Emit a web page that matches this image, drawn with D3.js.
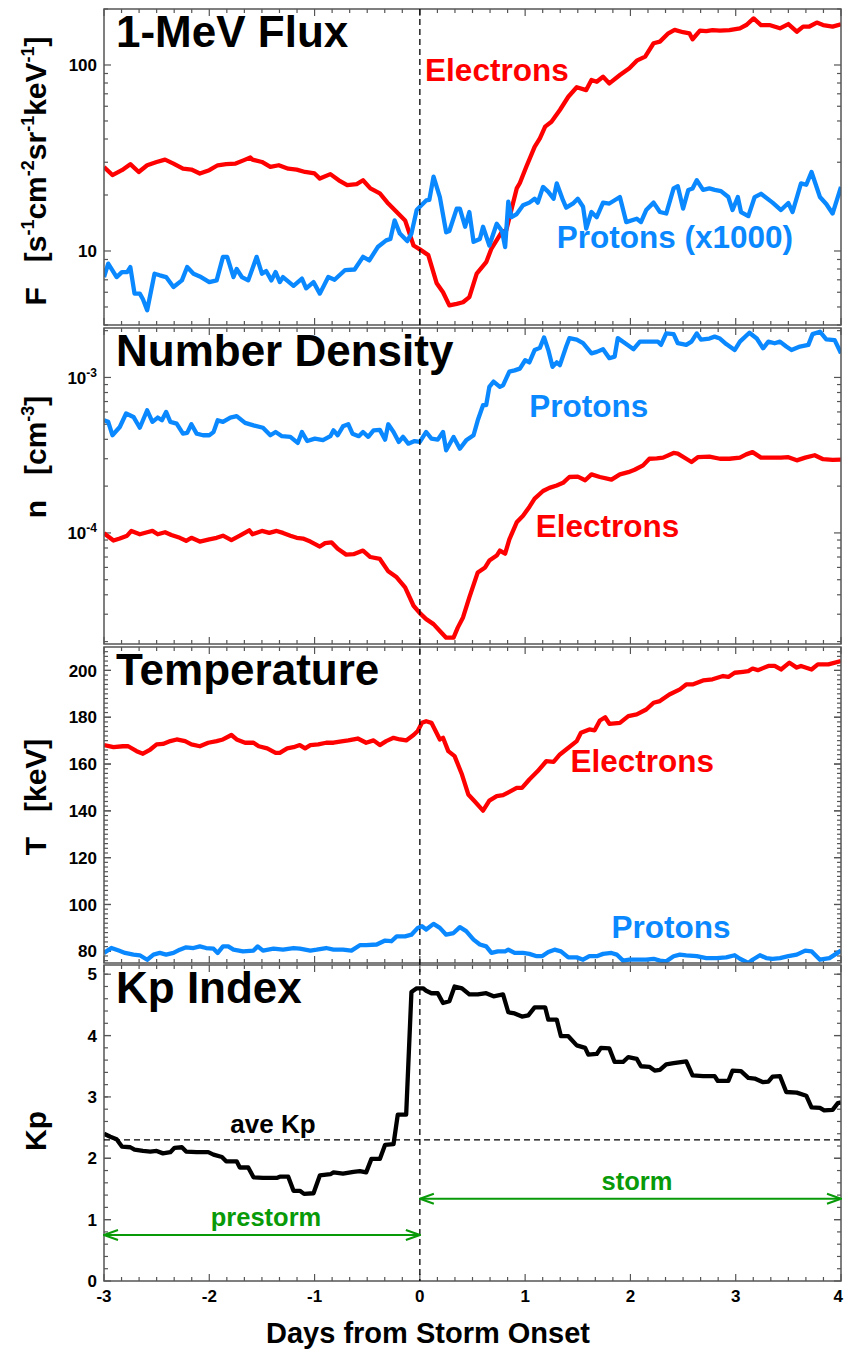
<!DOCTYPE html>
<html>
<head>
<meta charset="utf-8">
<script src="https://cdn.jsdelivr.net/npm/d3@7"></script>
<style>
  body { margin: 0; background: #fff; }
  svg text { font-family: "Liberation Sans", Arial, Helvetica, sans-serif; font-weight: bold; }
</style>
</head>
<body>
<script>
// ---- data: [days from onset, value] ----
const fluxElectrons = [
  [-3.00,28.3],[-2.92,25.6],[-2.83,27.2],[-2.75,29.3],[-2.67,26.6],[-2.59,28.9],[-2.50,30.1],[-2.42,31.0],
  [-2.34,29.5],[-2.25,27.7],[-2.17,27.4],[-2.09,26.1],[-2.00,27.2],[-1.92,28.9],[-1.84,29.3],[-1.75,29.5],
  [-1.67,30.8],[-1.61,31.8],[-1.59,31.0],[-1.50,30.1],[-1.42,28.3],[-1.34,28.9],[-1.25,27.7],[-1.17,27.4],
  [-1.09,26.6],[-1.00,26.1],[-0.95,24.5],[-0.85,25.9],[-0.77,24.0],[-0.69,22.6],[-0.60,22.9],[-0.54,24.0],
  [-0.47,21.7],[-0.38,20.4],[-0.30,18.0],[-0.22,16.2],[-0.14,14.6],[-0.06,10.7],[0.00,10.2],[0.08,9.5],
  [0.16,6.7],[0.22,6.0],[0.28,5.1],[0.35,5.2],[0.41,5.3],[0.47,5.65],[0.54,7.55],[0.63,8.7],[0.68,10.3],
  [0.78,12.7],[0.82,12.9],[0.92,21.7],[0.95,23.2],[1.01,28.3],[1.09,36.3],[1.14,40.3],[1.19,46.6],
  [1.25,49.5],[1.33,57.3],[1.41,67.5],[1.49,75.9],[1.58,73.3],[1.63,83],[1.68,81.3],[1.74,86.5],
  [1.80,79.6],[1.90,88.3],[1.99,96],[2.06,105.5],[2.14,110.9],[2.22,130.9],[2.28,133.6],[2.36,148],
  [2.42,154.4],[2.50,150],[2.56,148],[2.59,137.5],[2.66,153],[2.72,152],[2.78,154],[2.85,153],[2.94,154],
  [3.04,157.5],[3.10,164],[3.17,178],[3.24,164],[3.32,164],[3.42,157.5],[3.50,166],[3.58,151],[3.64,160.7],
  [3.70,161],[3.77,169],[3.83,164],[3.92,160.7],[4.00,165.6]
];
const fluxProtons = [
  [-3.00,7.24],[-2.96,8.55],[-2.88,7.24],[-2.83,7.7],[-2.78,7.7],[-2.75,8.2],[-2.71,5.9],[-2.66,5.9],
  [-2.63,5.5],[-2.59,4.8],[-2.52,7.55],[-2.47,7.4],[-2.41,7.24],[-2.34,6.4],[-2.26,6.95],[-2.21,8.2],
  [-2.15,7.55],[-2.09,7.3],[-2.00,6.8],[-1.93,6.95],[-1.87,9.3],[-1.83,9.3],[-1.77,7.24],[-1.74,8.0],
  [-1.69,7.24],[-1.63,6.95],[-1.55,9.3],[-1.50,7.55],[-1.46,7.8],[-1.41,6.95],[-1.37,7.7],[-1.33,6.8],
  [-1.30,7.24],[-1.20,6.5],[-1.12,7.1],[-1.08,6.3],[-1.01,6.8],[-0.95,5.9],[-0.87,7.24],[-0.81,7.0],
  [-0.71,7.9],[-0.62,7.95],[-0.54,9.3],[-0.48,8.9],[-0.40,10.5],[-0.32,11.4],[-0.28,11.6],[-0.24,14.6],
  [-0.19,12.4],[-0.12,11.3],[-0.08,12.4],[-0.03,16.6],[0.00,17.3],[0.06,18.7],[0.09,18.8],[0.13,25.1],
  [0.19,19.5],[0.25,12.6],[0.28,12.8],[0.35,16.9],[0.38,16.9],[0.43,13.5],[0.47,16.2],[0.51,11.2],
  [0.57,11.6],[0.60,13.5],[0.66,10.7],[0.73,14.0],[0.78,12.8],[0.81,10.5],[0.84,18.4],[0.87,15.2],
  [0.92,15.8],[0.98,17.6],[1.04,18.2],[1.09,19.1],[1.12,18.2],[1.17,22.1],[1.22,20.8],[1.27,19.1],
  [1.30,23.1],[1.36,18.7],[1.39,17.1],[1.46,18.1],[1.50,19.1],[1.55,17.3],[1.58,13.2],[1.63,16.2],
  [1.68,15.2],[1.74,18.2],[1.80,18.0],[1.90,19.5],[1.96,14.3],[2.06,14.9],[2.10,14.3],[2.15,16.6],
  [2.22,18.2],[2.28,16.2],[2.34,15.9],[2.41,21.7],[2.45,22.3],[2.50,16.9],[2.55,21.3],[2.59,21.7],
  [2.63,24.0],[2.69,21.3],[2.75,21.7],[2.80,21.3],[2.86,21.0],[2.93,19.5],[2.97,16.6],[3.02,19.5],
  [3.05,16.2],[3.12,15.4],[3.18,19.5],[3.24,20.3],[3.35,18.2],[3.43,16.6],[3.50,18.1],[3.54,16.2],
  [3.62,23.1],[3.67,22.7],[3.72,26.6],[3.80,19.5],[3.86,17.9],[3.92,15.9],[4.00,22.1]
];
const densProtons = [
  [-3.00,5.3e-4],[-2.96,5.18e-4],[-2.92,4.25e-4],[-2.85,4.8e-4],[-2.79,5.86e-4],[-2.72,5.57e-4],
  [-2.66,4.75e-4],[-2.59,6.15e-4],[-2.54,5.18e-4],[-2.49,5.52e-4],[-2.45,5.3e-4],[-2.41,6.0e-4],
  [-2.37,5.18e-4],[-2.31,5.05e-4],[-2.25,4.35e-4],[-2.21,4.4e-4],[-2.17,5.0e-4],[-2.12,4.35e-4],
  [-2.06,4.25e-4],[-2.00,4.25e-4],[-1.96,4.45e-4],[-1.92,5.3e-4],[-1.87,5.18e-4],[-1.80,5.52e-4],
  [-1.74,5.64e-4],[-1.66,5.1e-4],[-1.58,4.92e-4],[-1.49,4.75e-4],[-1.42,4.25e-4],[-1.37,4.46e-4],
  [-1.31,4.19e-4],[-1.23,4.15e-4],[-1.16,3.79e-4],[-1.12,4.46e-4],[-1.07,3.9e-4],[-0.997,4.04e-4],
  [-0.92,3.95e-4],[-0.85,4.19e-4],[-0.82,4.57e-4],[-0.78,4.25e-4],[-0.73,4.85e-4],[-0.68,5.0e-4],
  [-0.64,4.35e-4],[-0.58,4.19e-4],[-0.54,4.46e-4],[-0.49,4.15e-4],[-0.44,4.57e-4],[-0.38,4.6e-4],
  [-0.33,3.98e-4],[-0.30,5.0e-4],[-0.25,4.46e-4],[-0.20,3.85e-4],[-0.16,4.15e-4],[-0.11,3.75e-4],
  [-0.05,3.9e-4],[0.00,3.85e-4],[0.06,4.46e-4],[0.11,4.04e-4],[0.17,3.98e-4],[0.22,4.46e-4],
  [0.25,3.4e-4],[0.32,4.14e-4],[0.38,3.48e-4],[0.44,3.94e-4],[0.51,4.25e-4],[0.55,5.3e-4],
  [0.60,6.63e-4],[0.63,6.63e-4],[0.66,8.7e-4],[0.70,9.4e-4],[0.76,8.7e-4],[0.79,8.9e-4],
  [0.85,1.09e-3],[0.90,1.11e-3],[0.95,1.14e-3],[1.00,1.29e-3],[1.04,1.25e-3],[1.09,1.5e-3],
  [1.14,1.55e-3],[1.18,1.81e-3],[1.22,1.5e-3],[1.26,1.17e-3],[1.30,1.25e-3],[1.33,1.2e-3],
  [1.39,1.58e-3],[1.42,1.79e-3],[1.49,1.75e-3],[1.55,1.66e-3],[1.63,1.43e-3],[1.68,1.46e-3],
  [1.74,1.52e-3],[1.80,1.33e-3],[1.85,1.36e-3],[1.88,1.79e-3],[1.95,1.66e-3],[2.03,1.52e-3],
  [2.09,1.7e-3],[2.18,1.7e-3],[2.26,1.7e-3],[2.29,1.62e-3],[2.34,1.92e-3],[2.41,1.9e-3],
  [2.45,1.66e-3],[2.53,1.62e-3],[2.58,1.7e-3],[2.63,1.92e-3],[2.67,1.75e-3],[2.75,1.78e-3],
  [2.80,1.83e-3],[2.85,1.78e-3],[2.91,1.64e-3],[2.99,1.5e-3],[3.04,1.7e-3],[3.13,1.94e-3],
  [3.20,1.78e-3],[3.26,1.54e-3],[3.31,1.7e-3],[3.37,1.66e-3],[3.42,1.7e-3],[3.48,1.58e-3],
  [3.53,1.5e-3],[3.61,1.58e-3],[3.69,1.62e-3],[3.73,1.9e-3],[3.80,1.97e-3],[3.86,1.76e-3],
  [3.94,1.74e-3],[4.00,1.43e-3]
];
const densElectrons = [
  [-3.00,9.95e-5],[-2.91,8.93e-5],[-2.85,9.2e-5],[-2.78,9.6e-5],[-2.74,1.03e-4],[-2.66,9.8e-5],
  [-2.59,1.01e-4],[-2.54,1.03e-4],[-2.49,9.8e-5],[-2.42,1.01e-4],[-2.36,9.7e-5],[-2.28,9.3e-5],
  [-2.22,8.9e-5],[-2.17,9.3e-5],[-2.09,8.8e-5],[-2.00,9.1e-5],[-1.93,9.3e-5],[-1.87,9.6e-5],
  [-1.79,9.0e-5],[-1.71,9.6e-5],[-1.62,1.04e-4],[-1.59,9.8e-5],[-1.50,1.03e-4],[-1.43,1.0e-4],
  [-1.36,1.03e-4],[-1.30,1.0e-4],[-1.23,9.6e-5],[-1.17,9.3e-5],[-1.11,9.2e-5],[-1.04,8.8e-5],
  [-0.95,8.17e-5],[-0.90,8.6e-5],[-0.84,8.7e-5],[-0.78,7.9e-5],[-0.70,7.25e-5],[-0.63,7.3e-5],
  [-0.54,7.7e-5],[-0.47,7.0e-5],[-0.38,6.8e-5],[-0.30,5.66e-5],[-0.22,5.18e-5],[-0.14,4.46e-5],
  [-0.06,3.4e-5],[0.00,3.05e-5],[0.06,2.79e-5],[0.13,2.59e-5],[0.19,2.34e-5],[0.25,2.12e-5],
  [0.32,2.12e-5],[0.36,2.46e-5],[0.41,2.86e-5],[0.47,3.85e-5],[0.55,5.57e-5],[0.62,6.0e-5],
  [0.66,6.64e-5],[0.73,7.15e-5],[0.76,7.7e-5],[0.81,7.35e-5],[0.85,9.1e-5],[0.92,1.17e-4],
  [0.98,1.29e-4],[1.04,1.47e-4],[1.09,1.66e-4],[1.17,1.86e-4],[1.23,1.95e-4],[1.30,2.02e-4],
  [1.36,2.1e-4],[1.42,2.29e-4],[1.50,2.3e-4],[1.57,2.18e-4],[1.63,2.38e-4],[1.71,2.29e-4],
  [1.82,2.2e-4],[1.90,2.38e-4],[1.98,2.46e-4],[2.04,2.55e-4],[2.12,2.72e-4],[2.18,3.0e-4],
  [2.25,3.02e-4],[2.31,3.05e-4],[2.41,3.27e-4],[2.45,3.24e-4],[2.53,3.0e-4],[2.58,2.86e-4],
  [2.64,3.07e-4],[2.75,3.1e-4],[2.85,3.0e-4],[2.94,3.0e-4],[3.04,3.05e-4],[3.10,3.2e-4],
  [3.16,3.31e-4],[3.24,3.05e-4],[3.35,3.05e-4],[3.43,3.05e-4],[3.50,3.07e-4],[3.58,2.93e-4],
  [3.66,3.05e-4],[3.75,3.16e-4],[3.83,2.98e-4],[3.92,2.95e-4],[4.00,2.96e-4]
];
const tempElectrons = [
  [-3.00,168.1],[-2.91,167.2],[-2.82,167.6],[-2.77,167.6],[-2.69,165.5],[-2.63,164.4],[-2.56,166.2],
  [-2.50,168.4],[-2.44,168.6],[-2.37,169.8],[-2.31,170.5],[-2.23,169.8],[-2.17,168.4],[-2.09,167.6],
  [-2.01,169.1],[-1.93,169.8],[-1.87,170.5],[-1.79,172.4],[-1.74,170.5],[-1.66,169.1],[-1.58,169.1],
  [-1.53,167.6],[-1.45,166.7],[-1.37,164.8],[-1.33,164.8],[-1.26,166.7],[-1.20,167.2],[-1.14,168.1],
  [-1.09,166.7],[-1.04,168.1],[-0.965,168.4],[-0.89,169.1],[-0.82,169.1],[-0.76,169.6],[-0.68,170.1],
  [-0.59,170.9],[-0.51,169.1],[-0.44,170.1],[-0.38,168.1],[-0.32,169.8],[-0.25,171.2],[-0.19,170.5],
  [-0.13,170.1],[-0.06,172.4],[-0.02,174.1],[0.02,177.6],[0.06,178.3],[0.11,177.6],[0.19,170.5],
  [0.22,171.2],[0.27,165.5],[0.33,163.4],[0.40,155.5],[0.46,147.0],[0.52,144.1],[0.60,140.1],
  [0.66,144.4],[0.73,146.3],[0.79,146.7],[0.85,148.1],[0.92,149.8],[0.97,149.8],[1.04,153.4],
  [1.12,157.0],[1.20,161.2],[1.27,160.9],[1.33,164.1],[1.39,166.2],[1.49,169.8],[1.53,173.4],
  [1.61,174.8],[1.66,174.4],[1.71,178.6],[1.76,180.0],[1.80,177.2],[1.90,177.6],[1.98,180.5],
  [2.06,181.2],[2.15,183.3],[2.22,186.2],[2.28,186.9],[2.37,189.7],[2.47,191.9],[2.53,194.0],
  [2.59,194.0],[2.69,195.7],[2.78,196.2],[2.88,197.6],[2.93,197.2],[2.99,199.0],[3.07,199.4],
  [3.12,199.7],[3.16,200.8],[3.21,200.1],[3.31,201.9],[3.37,201.9],[3.43,200.4],[3.51,203.3],
  [3.58,201.2],[3.62,201.9],[3.72,200.4],[3.78,202.6],[3.88,202.6],[4.00,204.0]
];
const tempProtons = [
  [-3.00,79.3],[-2.93,81.4],[-2.86,80.3],[-2.80,79.3],[-2.72,78.6],[-2.66,78.3],[-2.59,76.4],
  [-2.53,78.6],[-2.47,79.3],[-2.41,78.6],[-2.34,79.3],[-2.28,80.7],[-2.22,81.7],[-2.15,81.4],
  [-2.09,82.1],[-2.03,81.4],[-1.96,81.1],[-1.92,79.3],[-1.87,82.1],[-1.82,82.1],[-1.77,80.7],
  [-1.68,80.0],[-1.58,80.3],[-1.54,82.1],[-1.49,80.3],[-1.39,81.1],[-1.30,80.7],[-1.20,81.4],
  [-1.14,81.1],[-1.04,80.3],[-0.98,80.7],[-0.89,81.4],[-0.82,80.7],[-0.73,80.7],[-0.65,80.3],
  [-0.57,82.6],[-0.51,82.6],[-0.41,82.9],[-0.33,84.6],[-0.27,84.3],[-0.22,86.4],[-0.14,86.4],
  [-0.08,87.1],[-0.02,90.0],[0.02,90.7],[0.06,89.3],[0.13,91.7],[0.19,90.0],[0.25,87.1],
  [0.32,87.8],[0.38,90.3],[0.44,88.6],[0.51,85.0],[0.57,82.9],[0.63,82.1],[0.68,79.3],
  [0.74,80.0],[0.81,80.0],[0.84,80.7],[0.90,79.3],[0.98,79.3],[1.04,78.9],[1.11,77.9],[1.16,77.9],
  [1.22,79.7],[1.28,80.7],[1.34,80.0],[1.41,77.4],[1.49,77.4],[1.55,76.4],[1.61,77.9],[1.68,77.9],
  [1.74,78.9],[1.82,79.3],[1.87,78.6],[1.93,76.0],[1.99,76.4],[2.06,76.4],[2.15,76.4],[2.22,76.8],
  [2.28,76.0],[2.34,75.7],[2.41,77.9],[2.47,78.6],[2.53,78.3],[2.63,77.9],[2.72,77.1],[2.82,77.1],
  [2.91,77.4],[2.99,78.3],[3.04,76.8],[3.12,75.0],[3.16,76.4],[3.23,78.3],[3.29,77.1],[3.35,76.8],
  [3.42,77.1],[3.50,77.9],[3.58,78.6],[3.66,80.3],[3.72,80.0],[3.80,76.4],[3.89,77.1],[4.00,80.3]
];
const kpIndex = [
  [-3.00,2.40],[-2.94,2.35],[-2.88,2.31],[-2.83,2.19],[-2.75,2.18],[-2.71,2.14],[-2.63,2.12],
  [-2.56,2.11],[-2.50,2.12],[-2.44,2.08],[-2.37,2.10],[-2.33,2.17],[-2.26,2.18],[-2.22,2.11],
  [-2.12,2.10],[-2.01,2.10],[-1.96,2.06],[-1.88,2.02],[-1.84,1.95],[-1.74,1.95],[-1.71,1.85],
  [-1.63,1.85],[-1.58,1.69],[-1.49,1.68],[-1.36,1.68],[-1.33,1.70],[-1.25,1.70],[-1.20,1.47],
  [-1.14,1.47],[-1.10,1.42],[-1.01,1.43],[-0.95,1.72],[-0.85,1.74],[-0.82,1.77],[-0.73,1.75],
  [-0.63,1.78],[-0.57,1.79],[-0.51,1.77],[-0.46,1.99],[-0.38,1.99],[-0.33,2.22],[-0.25,2.23],
  [-0.21,2.71],[-0.13,2.71],[-0.08,4.71],[-0.03,4.77],[0.03,4.77],[0.06,4.73],[0.11,4.69],
  [0.17,4.69],[0.22,4.53],[0.28,4.56],[0.33,4.80],[0.40,4.77],[0.47,4.67],[0.55,4.67],[0.63,4.69],
  [0.70,4.64],[0.79,4.67],[0.84,4.38],[0.90,4.36],[0.97,4.31],[1.03,4.33],[1.09,4.46],[1.19,4.46],
  [1.22,4.26],[1.30,4.26],[1.34,3.99],[1.41,3.99],[1.49,3.84],[1.57,3.80],[1.60,3.69],[1.68,3.70],
  [1.72,3.80],[1.80,3.79],[1.85,3.57],[1.93,3.57],[1.98,3.65],[2.06,3.62],[2.10,3.50],[2.18,3.49],
  [2.23,3.43],[2.28,3.44],[2.34,3.53],[2.41,3.55],[2.53,3.58],[2.59,3.35],[2.69,3.34],[2.80,3.34],
  [2.83,3.26],[2.93,3.26],[2.97,3.43],[3.05,3.42],[3.12,3.31],[3.18,3.30],[3.26,3.24],[3.31,3.25],
  [3.35,3.33],[3.42,3.34],[3.48,3.08],[3.58,3.07],[3.67,3.02],[3.72,2.83],[3.80,2.82],[3.84,2.78],
  [3.92,2.79],[3.97,2.90],[4.00,2.91]
];
const aveKp = 2.3;
const prestormSpan = [-3, 0], prestormLevel = 0.75;
const stormSpan = [0, 4], stormLevel = 1.34;
const xTickLabels = ["-3", "-2", "-1", "0", "1", "2", "3", "4"];

// ---- layout ----
const W = 844, H = 1350;
const left = 104, right = 841;
const panelTops = [9, 328, 647, 965], panelH = 316;
const RED = "#ff0000", BLUE = "#0a88ff", GREEN = "#089a08", FRAME = "#555";

const x = d3.scaleLinear().domain([-3, 4]).range([left, right]);

const svg = d3.select("body").append("svg").attr("width", W).attr("height", H);

function logMinor(lo, hi) {
  const out = [];
  for (let e = Math.floor(Math.log10(lo)); e <= Math.ceil(Math.log10(hi)); e++)
    for (let m = 2; m <= 9; m++) {
      const v = m * Math.pow(10, e);
      if (v >= lo && v <= hi) out.push(v);
    }
  return out;
}

// text with superscripts: parts = [[text, isSup], ...]
function rich(textSel, parts, supSize, shift) {
  let up = false;
  parts.forEach(([t, sup]) => {
    const ts = textSel.append("tspan").text(t);
    if (sup && !up) { ts.attr("dy", -shift).attr("font-size", supSize); up = true; }
    else if (sup) { ts.attr("font-size", supSize); }
    else if (up) { ts.attr("dy", shift); up = false; }
  });
  return textSel;
}

const panels = [
  {
    title: "1-MeV Flux", y: d3.scaleLog().domain([4, 200]),
    major: [10, 100], minor: logMinor(4, 200),
    tickParts: v => [[String(v), false]],
    ylabel: [["F   [s", false], ["-1", true], ["cm", false], ["-2", true], ["sr", false], ["-1", true], ["keV", false], ["-1", true], ["]", false]],
    ylabelY: 171,
    series: [{ data: fluxElectrons, color: RED }, { data: fluxProtons, color: BLUE }],
    notes: [
      { text: "Electrons", color: RED, day: 0.05, val: 82 },
      { text: "Protons (x1000)", color: BLUE, day: 1.30, val: 10.4 }
    ]
  },
  {
    title: "Number Density", y: d3.scaleLog().domain([1.93e-5, 2.08e-3]),
    major: [1e-4, 1e-3], minor: logMinor(1.93e-5, 2.08e-3),
    tickParts: v => [["10", false], [String(Math.round(Math.log10(v))), true]],
    ylabel: [["n   [cm", false], ["-3", true], ["]", false]],
    ylabelY: 457,
    series: [{ data: densElectrons, color: RED }, { data: densProtons, color: BLUE }],
    notes: [
      { text: "Protons", color: BLUE, day: 1.04, val: 5.57e-4 },
      { text: "Electrons", color: RED, day: 1.10, val: 9.4e-5 }
    ]
  },
  {
    title: "Temperature", y: d3.scaleLinear().domain([75, 210]),
    major: d3.range(80, 201, 20), minor: d3.range(76, 210, 2),
    tickParts: v => [[String(v), false]],
    ylabel: [["T   [keV]", false]],
    ylabelY: 797,
    series: [{ data: tempElectrons, color: RED }, { data: tempProtons, color: BLUE }],
    notes: [
      { text: "Electrons", color: RED, day: 1.43, val: 156.6 },
      { text: "Protons", color: BLUE, day: 1.82, val: 85.7 }
    ]
  },
  {
    title: "Kp Index", y: d3.scaleLinear().domain([0, 5.15]),
    major: d3.range(0, 5.01, 1), minor: d3.range(0.2, 5.15, 0.2),
    tickParts: v => [[String(v), false]],
    ylabel: [["Kp", false]],
    ylabelY: 1131,
    series: [{ data: kpIndex, color: "#000" }],
    notes: []
  }
];

const xMajor = d3.range(-3, 4.01, 1);
const xMinor = d3.range(-3, 4.001, 1 / 6);

panels.forEach((p, i) => {
  const top = panelTops[i], bot = top + panelH;
  p.y.range([bot, top]);
  const g = svg.append("g");

  g.append("clipPath").attr("id", "clip" + i)
    .append("rect").attr("x", left).attr("y", top).attr("width", right - left).attr("height", panelH);

  // ticks, inward on all four sides
  const tk = g.append("g").attr("stroke", FRAME).attr("stroke-width", 1.2);
  xMinor.forEach(d => {
    const len = xMajor.some(m => Math.abs(m - d) < 1e-6) ? 7 : 4;
    tk.append("line").attr("x1", x(d)).attr("x2", x(d)).attr("y1", bot).attr("y2", bot - len);
    tk.append("line").attr("x1", x(d)).attr("x2", x(d)).attr("y1", top).attr("y2", top + len);
  });
  p.minor.concat(p.major).forEach(v => {
    const len = p.major.includes(v) ? 7 : 4;
    tk.append("line").attr("x1", left).attr("x2", left + len).attr("y1", p.y(v)).attr("y2", p.y(v));
    tk.append("line").attr("x1", right).attr("x2", right - len).attr("y1", p.y(v)).attr("y2", p.y(v));
  });

  // y tick labels
  p.major.forEach(v => {
    const t = g.append("text").attr("x", 97).attr("y", p.y(v)).attr("dy", "0.36em")
      .attr("text-anchor", "end").attr("font-size", 17);
    rich(t, p.tickParts(v), 12, 7);
  });

  // data lines
  const line = d3.line().x(d => x(d[0])).y(d => p.y(d[1]));
  p.series.forEach(s => {
    g.append("path").datum(s.data).attr("clip-path", `url(#clip${i})`)
      .attr("fill", "none").attr("stroke", s.color).attr("stroke-width", 4.3)
      .attr("stroke-linejoin", "round").attr("d", line);
  });

  // frame
  g.append("rect").attr("x", left).attr("y", top).attr("width", right - left).attr("height", panelH)
    .attr("fill", "none").attr("stroke", FRAME).attr("stroke-width", 1.5);

  // title and series labels
  g.append("text").attr("x", left + 12).attr("y", top + 38).attr("font-size", 44).text(p.title);
  p.notes.forEach(n => {
    g.append("text").attr("x", x(n.day)).attr("y", p.y(n.val)).attr("font-size", 31.5)
      .attr("fill", n.color).text(n.text);
  });

  // y axis label
  const yl = g.append("text").attr("transform", `translate(46,${p.ylabelY}) rotate(-90)`)
    .attr("text-anchor", "middle").attr("font-size", 30).style("white-space", "pre");
  rich(yl, p.ylabel, 18, 12);
});

// x tick labels and title (bottom panel only); the last one is kept inside the page edge
xMajor.forEach((d, i) => {
  const last = i === xMajor.length - 1;
  svg.append("text").attr("x", last ? W - 1 : x(d)).attr("y", 1302)
    .attr("text-anchor", last ? "end" : "middle")
    .attr("font-size", 17).text(xTickLabels[i]);
});
svg.append("text").attr("x", 428).attr("y", 1343).attr("text-anchor", "middle")
  .attr("font-size", 29).text("Days from Storm Onset");

const kp = panels[3];

// onset marker
svg.append("line").attr("x1", x(0)).attr("x2", x(0)).attr("y1", panelTops[0]).attr("y2", panelTops[3] + panelH)
  .attr("stroke", "#000").attr("stroke-width", 1.3).attr("stroke-dasharray", "6,4");

// average Kp
svg.append("line").attr("x1", x(-3)).attr("x2", x(4)).attr("y1", kp.y(aveKp)).attr("y2", kp.y(aveKp))
  .attr("stroke", "#000").attr("stroke-width", 1.3).attr("stroke-dasharray", "6,4");
svg.append("text").attr("x", 273).attr("y", kp.y(aveKp) - 7).attr("text-anchor", "middle")
  .attr("font-size", 26).text("ave Kp");

// period arrows
const defs = svg.append("defs");
defs.append("marker").attr("id", "chev").attr("viewBox", "-1 -7 16 14")
  .attr("refX", 14).attr("refY", 0).attr("markerUnits", "userSpaceOnUse")
  .attr("markerWidth", 16).attr("markerHeight", 14).attr("orient", "auto-start-reverse")
  .append("path").attr("d", "M0,-5 L14,0 L0,5").attr("fill", "none")
  .attr("stroke", GREEN).attr("stroke-width", 2);

[[prestormSpan, prestormLevel, "prestorm", 266], [stormSpan, stormLevel, "storm", 637]].forEach(([span, lvl, label, cx]) => {
  svg.append("line").attr("x1", x(span[0])).attr("x2", x(span[1])).attr("y1", kp.y(lvl)).attr("y2", kp.y(lvl))
    .attr("stroke", GREEN).attr("stroke-width", 2)
    .attr("marker-start", "url(#chev)").attr("marker-end", "url(#chev)");
  svg.append("text").attr("x", cx).attr("y", kp.y(lvl) - 9).attr("text-anchor", "middle")
    .attr("font-size", 25.5).attr("fill", GREEN).text(label);
});
</script>
</body>
</html>
